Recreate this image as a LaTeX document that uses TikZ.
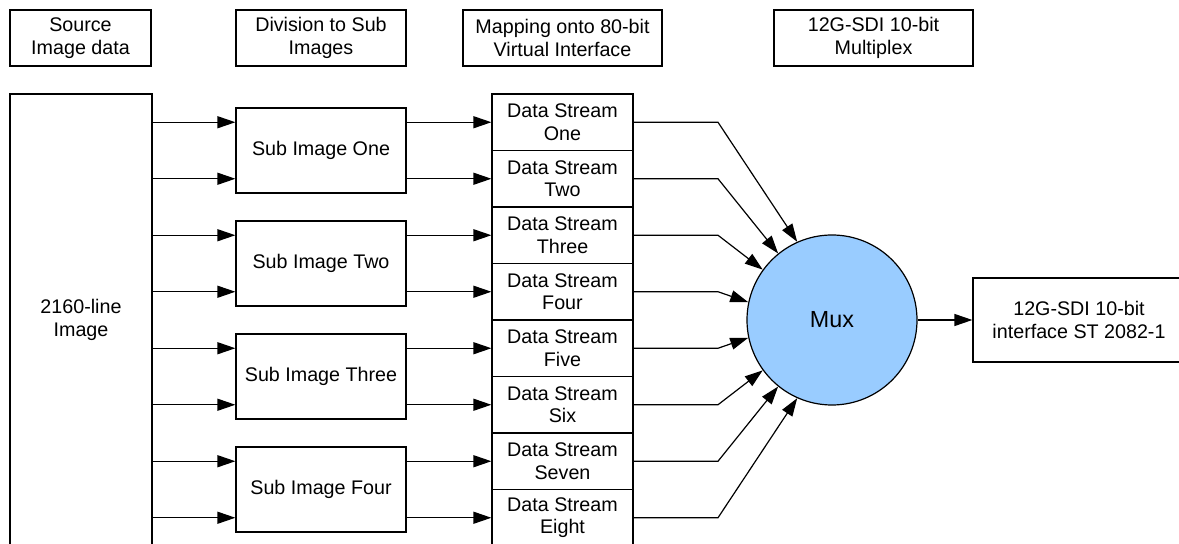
\documentclass[tikz,border=0pt]{standalone}
\usepackage{fontspec}
\setmainfont{Liberation Sans}
\usetikzlibrary{arrows.meta}
\definecolor{muxblue}{HTML}{99CCFF}
\begin{document}
\begin{tikzpicture}[x=0.5pt,y=-0.5pt,
  every node/.style={font=\fontsize{9.85pt}{11.35pt}\selectfont},
  box/.style={draw,line width=0.6pt,rectangle,inner sep=0pt,align=center},
  hdr/.style={box,minimum height=28pt},
  subbox/.style={box,minimum width=85pt,minimum height=42.5pt},
  dsbox/.style={box,minimum width=70.5pt,minimum height=28.25pt},
  arr/.style={line width=0.6pt,-{Triangle[length=9pt,width=6pt]}},
  conn/.style={line width=0.6pt}]
\useasboundingbox (0,0) rectangle (1179,544);
% headers
\node[hdr,minimum width=70.5pt] (h1) at (80.5,38) {Source\\Image data};
\node[hdr,minimum width=85pt] (h2) at (321,38) {Division to Sub\\Images};
\node[hdr,minimum width=99.5pt] (h3) at (562.5,38) {Mapping onto 80-bit\\Virtual Interface};
\node[hdr,minimum width=99.5pt] (h4) at (873.5,38) {12G-SDI 10-bit\\Multiplex};
% source image
\node[box,minimum width=71pt,minimum height=226pt] (img) at (81,320) {2160-line\\Image};
% sub images
\node[subbox] (s1) at (321,150.5) {Sub Image One};
\node[subbox] (s2) at (321,263.5) {Sub Image Two};
\node[subbox] (s3) at (321,376.5) {Sub Image Three};
\node[subbox] (s4) at (321,489.5) {Sub Image Four};
% data streams
\node[dsbox] (d1) at (562.5,122.25) {Data Stream\\One};
\node[dsbox] (d2) at (562.5,178.75) {Data Stream\\Two};
\node[dsbox] (d3) at (562.5,235.25) {Data Stream\\Three};
\node[dsbox] (d4) at (562.5,291.75) {Data Stream\\Four};
\node[dsbox] (d5) at (562.5,348.25) {Data Stream\\Five};
\node[dsbox] (d6) at (562.5,404.75) {Data Stream\\Six};
\node[dsbox] (d7) at (562.5,461.25) {Data Stream\\Seven};
\node[dsbox] (d8) at (562.5,517.75) {Data Stream\\Eight};
% mux
\node[draw,line width=0.6pt,circle,fill=muxblue,minimum size=85pt,inner sep=0pt,font=\fontsize{11.65pt}{13.4pt}\selectfont] (mux) at (832,320) {Mux};
% output
\node[box,minimum width=106pt,minimum height=42pt] (out) at (1079,320) {12G-SDI 10-bit\\interface ST 2082-1};
\coordinate (bx) at (718,0);
% source -> sub images
\draw[arr] (img.east |- d1) -- (s1.west |- d1);
\draw[arr] (img.east |- d2) -- (s1.west |- d2);
\draw[arr] (img.east |- d3) -- (s2.west |- d3);
\draw[arr] (img.east |- d4) -- (s2.west |- d4);
\draw[arr] (img.east |- d5) -- (s3.west |- d5);
\draw[arr] (img.east |- d6) -- (s3.west |- d6);
\draw[arr] (img.east |- d7) -- (s4.west |- d7);
\draw[arr] (img.east |- d8) -- (s4.west |- d8);
% sub images -> data streams
\draw[arr] (s1.east |- d1) -- (d1.west);
\draw[arr] (s1.east |- d2) -- (d2.west);
\draw[arr] (s2.east |- d3) -- (d3.west);
\draw[arr] (s2.east |- d4) -- (d4.west);
\draw[arr] (s3.east |- d5) -- (d5.west);
\draw[arr] (s3.east |- d6) -- (d6.west);
\draw[arr] (s4.east |- d7) -- (d7.west);
\draw[arr] (s4.east |- d8) -- (d8.west);
% data streams -> mux
\draw[arr] (d1.east) -- (d1.east -| bx) -- (mux.114);
\draw[arr] (d2.east) -- (d2.east -| bx) -- (mux.129);
\draw[arr] (d3.east) -- (d3.east -| bx) -- (mux.144);
\draw[arr] (d4.east) -- (d4.east -| bx) -- (mux.168);
\draw[arr] (d5.east) -- (d5.east -| bx) -- (mux.192);
\draw[arr] (d6.east) -- (d6.east -| bx) -- (mux.216);
\draw[arr] (d7.east) -- (d7.east -| bx) -- (mux.231);
\draw[arr] (d8.east) -- (d8.east -| bx) -- (mux.246);
% mux -> output
\draw[arr] (mux.east) -- (out.west);
\end{tikzpicture}
\end{document}
